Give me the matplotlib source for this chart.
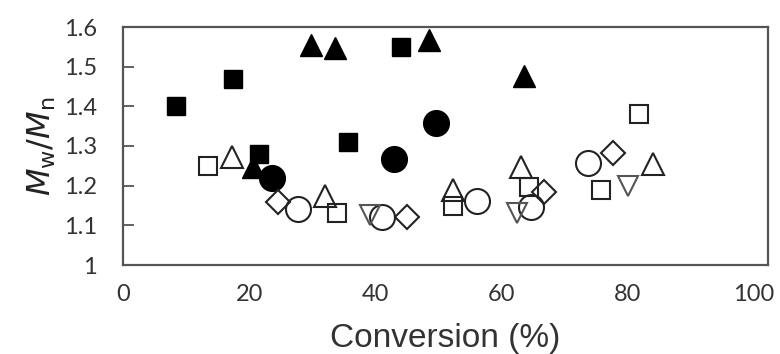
import matplotlib
matplotlib.use("Agg")
import matplotlib.pyplot as plt

# filled squares
fsq_x = [8.3, 17.4, 21.5, 35.7, 44.1]
fsq_y = [1.40, 1.468, 1.279, 1.31, 1.549]
# filled triangles
ftr_x = [20.6, 29.8, 33.6, 48.5, 63.6]
ftr_y = [1.247, 1.555, 1.546, 1.568, 1.477]
# filled circles
fci_x = [23.6, 43.0, 49.7]
fci_y = [1.219, 1.268, 1.357]
# open squares
osq_x = [13.4, 33.9, 52.3, 64.4, 75.8, 81.8]
osq_y = [1.25, 1.131, 1.15, 1.197, 1.19, 1.381]
# open triangles
otr_x = [17.2, 32.0, 52.3, 63.2, 84.1]
otr_y = [1.272, 1.175, 1.19, 1.246, 1.254]
# open circles
oci_x = [27.8, 41.0, 56.1, 64.7, 73.7]
oci_y = [1.142, 1.121, 1.161, 1.146, 1.258]
# open diamonds
odi_x = [24.6, 45.1, 66.8, 77.8]
odi_y = [1.158, 1.121, 1.183, 1.283]
# open down triangles
odt_x = [39.1, 62.5, 80.1]
odt_y = [1.125, 1.13, 1.20]

xticks = [0, 20, 40, 60, 80, 100]
yticks = [1.0, 1.1, 1.2, 1.3, 1.4, 1.5, 1.6]
ytick_labels = ["1", "1.1", "1.2", "1.3", "1.4", "1.5", "1.6"]

fig = plt.figure(figsize=(7.8, 3.54), dpi=100)
ax = fig.add_axes([123.3 / 780, 1 - 265 / 354, (768 - 123.3) / 780, (265 - 27) / 354])

lw = 1.5
ax.plot(fsq_x, fsq_y, 's', ms=13, color='black', mec='black', mew=1, ls='none')
ax.plot(ftr_x, ftr_y, '^', ms=16.5, color='black', mec='black', mew=1, ls='none')
ax.plot(fci_x, fci_y, 'o', ms=18.5, color='black', mec='black', mew=1, ls='none')
ax.plot(osq_x, osq_y, 's', ms=13, mfc='none', mec='#222222', mew=lw, ls='none')
ax.plot(otr_x, otr_y, '^', ms=16.5, mfc='none', mec='#222222', mew=lw, ls='none')
ax.plot(oci_x, oci_y, 'o', ms=18, mfc='none', mec='#222222', mew=lw, ls='none')
ax.plot(odi_x, odi_y, 'D', ms=12.5, mfc='none', mec='#222222', mew=lw, ls='none')
ax.plot(odt_x, odt_y, 'v', ms=15, mfc='none', mec='#555555', mew=lw, ls='none')

ax.set_xlim(0, (768 - 123.3) / 6.3)
ax.set_ylim(1.0, 1.6)
ax.set_xticks(xticks)
ax.set_yticks(yticks)
ax.set_yticklabels(ytick_labels)
for lab in ax.get_xticklabels() + ax.get_yticklabels():
    lab.set_fontfamily('Lato')
    lab.set_fontsize(17)
    lab.set_color('#333333')
ax.tick_params(axis='x', length=0, pad=14)
ax.tick_params(axis='y', direction='in', length=8, width=1.3, color='#555555', pad=19)
for s in ax.spines.values():
    s.set_color('#555555')
    s.set_linewidth(1.6)

ax.set_xlabel('Conversion (%)', family='Liberation Sans', fontsize=24, color='#333333', labelpad=13)
ax.set_ylabel(r'$M_\mathregular{w}/M_\mathregular{n}$', fontsize=23, color='#222222', labelpad=4)

fig.savefig('out.png', dpi=100)
